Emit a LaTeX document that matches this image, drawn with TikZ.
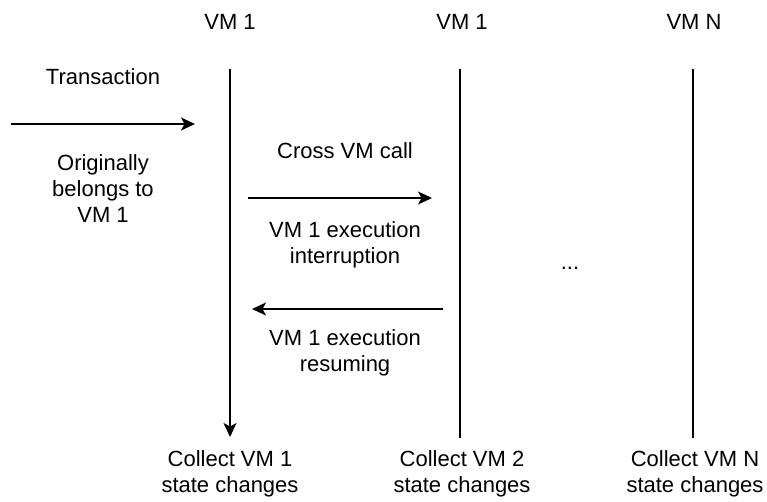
\documentclass[tikz,border=0pt]{standalone}
\usepackage{fontspec}
\setmainfont{Liberation Sans}
\usetikzlibrary{arrows.meta}
\tikzset{
  lbl/.style={align=center, inner sep=0pt, font=\fontsize{22}{26}\selectfont},
  life/.style={line width=1.3pt, draw=black},
  msg/.style={line width=1.3pt, draw=black, -{Stealth[length=14pt,width=13pt,inset=3.5pt]}}
}
\begin{document}
\begin{tikzpicture}[x=1pt,y=-1pt]
  \path[use as bounding box, fill=white] (0,0) rectangle (767,502);

  % lifeline headers
  \node[lbl] (h1) at (230,22) {VM 1};
  \node[lbl] (h2) at (462,22) {VM 1};
  \node[lbl] (hn) at (694,22) {VM N};

  % lifelines
  \coordinate (l1t) at (230,69);
  \coordinate (l1b) at (230,437);
  \coordinate (l2t) at (460,69);
  \coordinate (l2b) at (460,438);
  \coordinate (lnt) at (693,69);
  \coordinate (lnb) at (693,438);
  \draw[msg] (l1t) -- (l1b);
  \draw[life] (l2t) -- (l2b);
  \draw[life] (lnt) -- (lnb);

  % incoming transaction
  \node[lbl] (tx) at (103,77) {Transaction};
  \coordinate (txs) at (11,124);
  \coordinate (txe) at (195,124);
  \draw[msg] (txs) -- (txe);
  \node[lbl] (orig) at (103,189) {Originally\\belongs to\\VM 1};

  % cross VM call
  \node[lbl] (cvm) at (345,151) {Cross VM call};
  \coordinate (cs) at (248,198);
  \coordinate (ce) at (432,198);
  \draw[msg] (cs) -- (ce);
  \node[lbl] (intr) at (345,245) {VM 1 execution\\interruption};

  % return to VM 1
  \coordinate (rs) at (443,309);
  \coordinate (re) at (252,309);
  \draw[msg] (rs) -- (re);
  \node[lbl] (res) at (345,353) {VM 1 execution\\resuming};

  \node[lbl] (dots) at (570,268) {...};

  % collected state changes
  \node[lbl] (c1) at (230,474) {Collect VM 1\\state changes};
  \node[lbl] (c2) at (462,474) {Collect VM 2\\state changes};
  \node[lbl] (cn) at (695,474) {Collect VM N\\state changes};
\end{tikzpicture}
\end{document}
